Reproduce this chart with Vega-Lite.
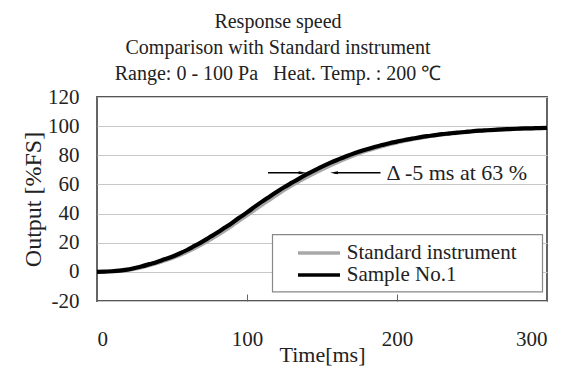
{
  "$schema": "https://vega.github.io/schema/vega-lite/v6.json",
  "autosize": "none",
  "width": 450,
  "height": 204,
  "padding": {"left": 97, "top": 97, "right": 26, "bottom": 66},
  "background": "white",
  "title": {
    "text": ["Response speed", "Comparison with Standard instrument", "Range: 0 - 100 Pa\u00a0\u00a0\u00a0Heat. Temp. : 200 ℃"],
    "anchor": "middle",
    "font": "Liberation Serif",
    "fontSize": 20,
    "fontWeight": "normal",
    "lineHeight": 26,
    "color": "#222",
    "offset": 2,
    "dx": -44
  },
  "config": {
    "font": "Liberation Serif",
    "view": {"stroke": "#555", "strokeWidth": 1.8},
    "axis": {"labelFont": "Liberation Serif", "titleFont": "Liberation Serif", "labelFontSize": 21, "titleFontSize": 22, "titleFontWeight": "normal", "labelColor": "#222", "titleColor": "#222", "domain": false}
  },
  "datasets": {
    "sample": [
      {"t":0,"v":0},{"t":5,"v":0.2},{"t":10,"v":0.4},{"t":15,"v":0.8},{"t":20,"v":1.5},{"t":25,"v":2.6},{"t":30,"v":3.8},{"t":35,"v":5.3},{"t":40,"v":6.8},{"t":45,"v":8.6},{"t":50,"v":10.4},{"t":55,"v":12.6},{"t":60,"v":15},{"t":65,"v":17.8},{"t":70,"v":20.6},{"t":75,"v":23.7},{"t":80,"v":26.8},{"t":85,"v":30.2},{"t":90,"v":33.6},{"t":95,"v":37.3},{"t":100,"v":40.8},{"t":105,"v":44.6},{"t":110,"v":48.2},{"t":115,"v":51.6},{"t":120,"v":55},{"t":125,"v":58.2},{"t":130,"v":61.2},{"t":135,"v":64.2},{"t":140,"v":67},{"t":145,"v":69.6},{"t":150,"v":72.2},{"t":155,"v":74.6},{"t":160,"v":76.8},{"t":165,"v":78.8},{"t":170,"v":80.8},{"t":175,"v":82.6},{"t":180,"v":84.2},{"t":185,"v":85.7},{"t":190,"v":87},{"t":195,"v":88.3},{"t":200,"v":89.4},{"t":205,"v":90.5},{"t":210,"v":91.4},{"t":215,"v":92.3},{"t":220,"v":93.1},{"t":225,"v":93.8},{"t":230,"v":94.5},{"t":235,"v":95},{"t":240,"v":95.6},{"t":245,"v":96},{"t":250,"v":96.5},{"t":255,"v":96.9},{"t":260,"v":97.2},{"t":265,"v":97.5},{"t":270,"v":97.8},{"t":275,"v":98},{"t":280,"v":98.2},{"t":285,"v":98.4},{"t":290,"v":98.5},{"t":295,"v":98.7},{"t":300,"v":98.8}
    ],
    "standard": [
      {"t":0,"v":0},{"t":10,"v":0.2},{"t":20,"v":1},{"t":30,"v":3},{"t":40,"v":5.8},{"t":50,"v":9.2},{"t":60,"v":13.5},{"t":70,"v":18.8},{"t":80,"v":24.8},{"t":90,"v":31.5},{"t":100,"v":38.6},{"t":110,"v":45.8},{"t":120,"v":52.8},{"t":130,"v":59.2},{"t":140,"v":65},{"t":150,"v":70.2},{"t":160,"v":75},{"t":170,"v":79.3},{"t":180,"v":83},{"t":190,"v":86},{"t":200,"v":88.6},{"t":210,"v":90.8},{"t":220,"v":92.6},{"t":230,"v":94},{"t":240,"v":95.2},{"t":250,"v":96.2},{"t":260,"v":97},{"t":270,"v":97.6},{"t":280,"v":98},{"t":290,"v":98.4},{"t":300,"v":98.7}
    ],
    "arrows": [
      {"x":114,"x2":137,"y":68,"dir":"right"},
      {"x":158,"x2":189,"y":68,"dir":"left"}
    ],
    "label": [{"x":193,"y":68,"text":"Δ -5 ms at 63 %"}],
    "legendbox": [{"x":117,"x2":297,"y":25.5,"y2":-13.8}],
    "legend": [
      {"series":"Standard instrument","x":134,"x2":162,"tx":166.5,"y":13.0},
      {"series":"Sample No.1","x":134,"x2":162,"tx":166.5,"y":-2.2}
    ]
  },
  "layer": [
    {
      "data": {"name": "legendbox"},
      "mark": {"type": "rect", "fill": "white", "stroke": "#888", "strokeWidth": 1.2},
      "encoding": {
        "x": {"field": "x", "type": "quantitative", "scale": {"domain": [0, 300], "nice": false}, "axis": {"values": [0, 100, 200, 300], "title": "Time[ms]", "grid": false, "ticks": true, "tickSize": -7, "tickColor": "#666", "labelPadding": 34, "titlePadding": -5, "labelOverlap": false}},
        "x2": {"field": "x2"},
        "y": {"field": "y", "type": "quantitative", "scale": {"domain": [-20, 120], "nice": false}, "axis": {"tickCount": 8, "labelExpr": "'' + datum.value", "title": "Output [%FS]", "titleFontSize": 24, "grid": true, "gridColor": "#c8c8c8", "ticks": false, "labelPadding": 18, "titlePadding": 2, "labelOverlap": false, "labelSeparation": 0, "labelBound": false}},
        "y2": {"field": "y2"}
      }
    },
    {
      "data": {"name": "standard"},
      "transform": [{"calculate": "'Standard instrument'", "as": "series"}],
      "mark": {"type": "line", "strokeWidth": 3.5, "interpolate": "monotone"},
      "encoding": {
        "x": {"field": "t", "type": "quantitative"},
        "y": {"field": "v", "type": "quantitative"},
        "color": {"field": "series", "type": "nominal", "scale": {"domain": ["Standard instrument", "Sample No.1"], "range": ["#a8a8a8", "#000000"]}, "legend": null}
      }
    },
    {
      "data": {"name": "sample"},
      "transform": [{"calculate": "'Sample No.1'", "as": "series"}],
      "mark": {"type": "line", "strokeWidth": 4.2, "interpolate": "monotone"},
      "encoding": {
        "x": {"field": "t", "type": "quantitative"},
        "y": {"field": "v", "type": "quantitative"},
        "color": {"field": "series", "type": "nominal", "legend": null}
      }
    },
    {
      "data": {"name": "legend"},
      "mark": {"type": "rule", "strokeWidth": 3.5},
      "encoding": {
        "x": {"field": "x", "type": "quantitative"},
        "x2": {"field": "x2"},
        "y": {"field": "y", "type": "quantitative"},
        "color": {"field": "series", "type": "nominal", "legend": null}
      }
    },
    {
      "data": {"name": "legend"},
      "mark": {"type": "text", "align": "left", "baseline": "middle", "font": "Liberation Serif", "fontSize": 21, "color": "#222"},
      "encoding": {
        "x": {"field": "tx", "type": "quantitative"},
        "y": {"field": "y", "type": "quantitative"},
        "text": {"field": "series"}
      }
    },
    {
      "data": {"name": "arrows"},
      "mark": {"type": "rule", "color": "#000", "strokeWidth": 1.5},
      "encoding": {
        "x": {"field": "x", "type": "quantitative"},
        "x2": {"field": "x2"},
        "y": {"field": "y", "type": "quantitative"}
      }
    },
    {
      "data": {"name": "arrows"},
      "transform": [{"filter": "datum.dir == 'right'"}],
      "mark": {"type": "point", "shape": "M -1 -0.4 L 1 0 L -1 0.4 Z", "filled": true, "color": "#000", "size": 60, "opacity": 1},
      "encoding": {
        "x": {"field": "x2", "type": "quantitative"},
        "y": {"field": "y", "type": "quantitative"}
      }
    },
    {
      "data": {"name": "arrows"},
      "transform": [{"filter": "datum.dir == 'left'"}],
      "mark": {"type": "point", "shape": "M 1 -0.4 L -1 0 L 1 0.4 Z", "filled": true, "color": "#000", "size": 60, "opacity": 1},
      "encoding": {
        "x": {"field": "x", "type": "quantitative"},
        "y": {"field": "y", "type": "quantitative"}
      }
    },
    {
      "data": {"name": "label"},
      "mark": {"type": "text", "align": "left", "baseline": "middle", "font": "Liberation Serif", "fontSize": 22, "color": "#222"},
      "encoding": {
        "x": {"field": "x", "type": "quantitative"},
        "y": {"field": "y", "type": "quantitative"},
        "text": {"field": "text"}
      }
    }
  ]
}
